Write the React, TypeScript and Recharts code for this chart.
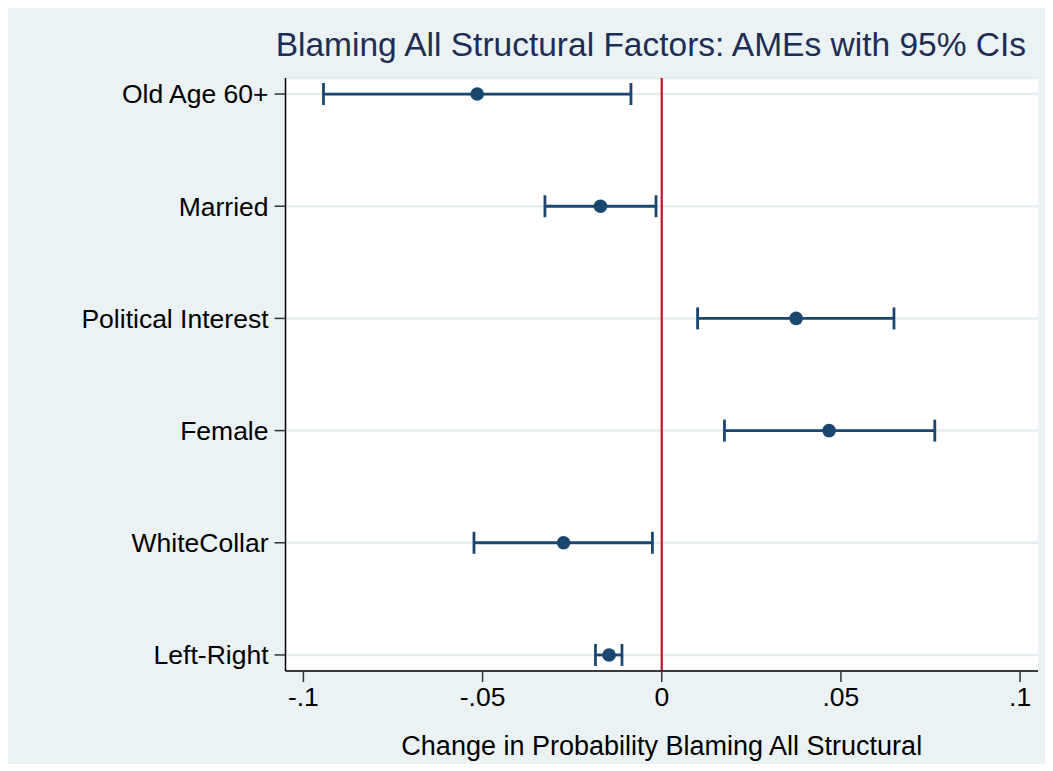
import React from "react";
import {
  ScatterChart,
  Scatter,
  XAxis,
  YAxis,
  CartesianGrid,
  ReferenceLine,
  ErrorBar,
  Label,
} from "recharts";

const categories = [
  "Old Age 60+",
  "Married",
  "Political Interest",
  "Female",
  "WhiteCollar",
  "Left-Right",
];
const ame = [-0.0515, -0.0171, 0.0375, 0.0467, -0.0274, -0.0147];
const ciLow = [-0.0944, -0.0326, 0.0100, 0.0175, -0.0524, -0.0185];
const ciHigh = [-0.0086, -0.0016, 0.0648, 0.0762, -0.0026, -0.0111];
const xTicks = [-0.1, -0.05, 0, 0.05, 0.1];
const xTickLabels = ["-.1", "-.05", "0", ".05", ".1"];

const NAVY = "#1a476f";
const FONT = "'Liberation Sans', Arial, sans-serif";

const data = categories.map((name, i) => ({
  name,
  pos: i + 1,
  ame: ame[i],
  err: [ame[i] - ciLow[i], ciHigh[i] - ame[i]],
}));

const Dot = (props: any) => {
  const { cx, cy } = props;
  return <circle cx={cx} cy={cy} r={6.8} fill={NAVY} />;
};

export default function App() {
  return (
    <div
      style={{
        position: "relative",
        width: 1045,
        height: 756,
        background: "#eaf2f3",
        fontFamily: FONT,
      }}
    >
      <div
        style={{
          position: "absolute",
          right: 27,
          top: 17,
          fontSize: 33.5,
          color: "#1e2d55",
          whiteSpace: "nowrap",
          lineHeight: "40px",
        }}
      >
        Blaming All Structural Factors: AMEs with 95% CIs
      </div>
      <ScatterChart
        width={1045}
        height={756}
        margin={{ top: 70, right: 15, bottom: 0, left: 0 }}
      >
        <CartesianGrid
          vertical={false}
          stroke="#e3ecee"
          strokeWidth={2.5}
          fill="#ffffff"
          fillOpacity={1}
        />
        <XAxis
          type="number"
          dataKey="ame"
          domain={[-0.105, 0.105]}
          ticks={xTicks}
          tickFormatter={(v: number) => xTickLabels[xTicks.indexOf(v)] ?? String(v)}
          height={93}
          tickSize={11}
          tickMargin={5}
          axisLine={{ stroke: "#000000", strokeWidth: 1.5 }}
          tickLine={{ stroke: "#333333", strokeWidth: 1.5 }}
          tick={{ fill: "#000000", fontSize: 26.5, fontFamily: FONT }}
          allowDataOverflow
        >
          <Label
            value="Change in Probability Blaming All Structural"
            position="insideBottom"
            offset={9}
            style={{ fill: "#000000", fontSize: 27, fontFamily: FONT }}
          />
        </XAxis>
        <YAxis
          type="number"
          dataKey="pos"
          reversed
          domain={[0.857, 6.143]}
          ticks={[1, 2, 3, 4, 5, 6]}
          tickFormatter={(v: number) => categories[v - 1] ?? ""}
          width={277.5}
          tickSize={11}
          tickMargin={6}
          axisLine={{ stroke: "#000000", strokeWidth: 1.5 }}
          tickLine={{ stroke: "#333333", strokeWidth: 1.5 }}
          tick={{ fill: "#000000", fontSize: 26.5, fontFamily: FONT }}
          allowDataOverflow
        />
        <ReferenceLine x={0} stroke="#c8102e" strokeWidth={2.2} />
        <Scatter data={data} shape={<Dot />} isAnimationActive={false}>
          <ErrorBar
            dataKey="err"
            direction="x"
            width={11}
            stroke={NAVY}
            strokeWidth={2.8}
          />
        </Scatter>
      </ScatterChart>
    </div>
  );
}
